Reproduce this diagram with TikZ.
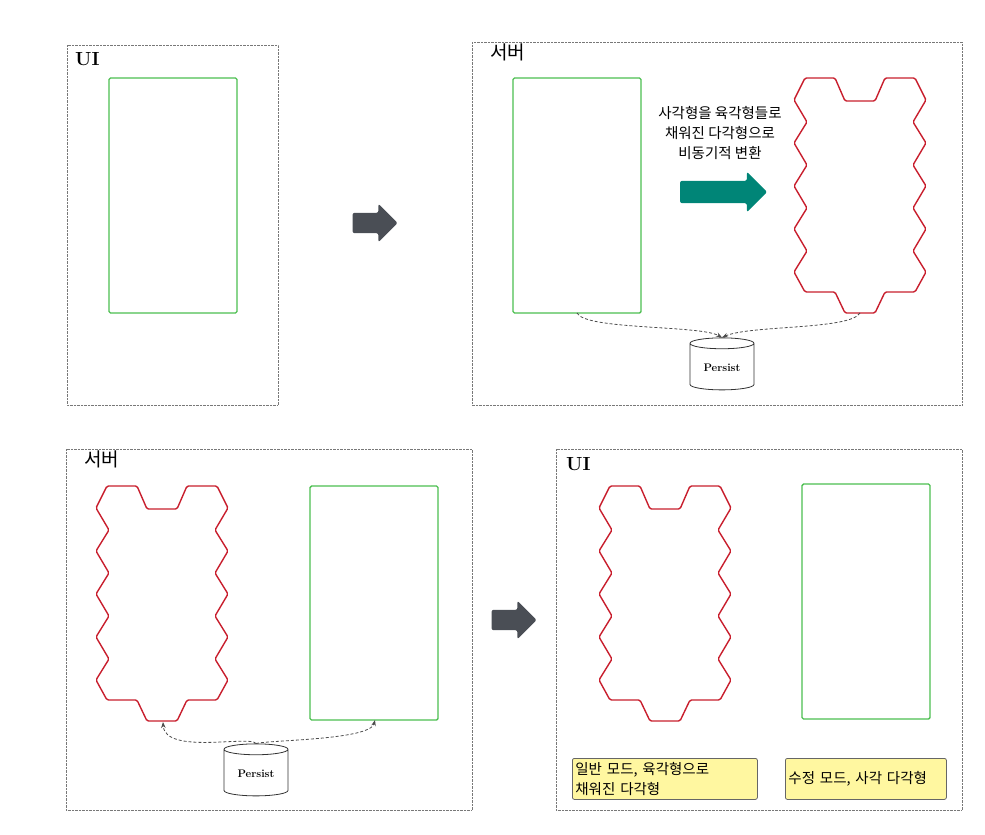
\documentclass[tikz,border=0pt]{standalone}
\usepackage{fontspec}
\newfontfamily\kr{Noto Sans CJK KR}
\usetikzlibrary{shapes.geometric,shapes.arrows,arrows.meta,positioning}
\definecolor{FrameGray}{RGB}{120,120,120}
\definecolor{RectGreen}{RGB}{76,190,80}
\definecolor{HexRed}{RGB}{200,30,45}
\definecolor{ArrowGray}{RGB}{74,78,85}
\definecolor{ArrowTeal}{RGB}{0,133,119}
\definecolor{NoteYellow}{RGB}{255,247,160}
\tikzset{
  frame/.style={draw=FrameGray, densely dotted, thin},
  rect/.style={draw=RectGreen, rounded corners=1.5pt, line width=1.4pt},
  hexpoly/.style={draw=HexRed, line width=1.4pt, rounded corners=1.5pt},
  title/.style={anchor=north west, font=\bfseries\fontsize{19}{22}\selectfont, inner sep=0pt},
  ktitle/.style={anchor=north west, font=\kr\fontsize{19}{22}\selectfont, inner sep=0pt},
  blockarrow/.style={single arrow, fill=#1, draw=none, rounded corners=2pt, single arrow head extend=9pt, inner sep=0pt},
  persist/.style={cylinder, shape border rotate=90, aspect=0.25, draw=black!80, fill=white, thick, minimum width=64pt, minimum height=52pt, font=\bfseries\fontsize{11}{13}\selectfont},
  dflow/.style={densely dashed, draw=black!70, thick, -{Stealth[length=6pt]}},
  note/.style={draw=black!60, fill=NoteYellow, rounded corners=2pt, thick, anchor=north west, minimum width=#1, minimum height=41pt, align=left, inner sep=2pt, font=\kr\fontsize{14.5}{20}\selectfont, text width=#1-6pt}
}
\newcommand{\hexblob}[2]{%
  \draw[hexpoly, shift={(#1,#2)}] (11,0) -- (41,0) -- (51,23) -- (81,23) -- (91,0) -- (121,0) -- (132,22) -- (119,44) -- (132,65) -- (119,87) -- (132,108) -- (119,130) -- (132,151) -- (119,173) -- (132,194) -- (121,214) -- (91,214) -- (81,235) -- (51,235) -- (41,214) -- (11,214) -- (0,194) -- (13,173) -- (0,151) -- (13,130) -- (0,108) -- (13,87) -- (0,65) -- (13,44) -- (0,22) -- cycle;}
\begin{document}
\begin{tikzpicture}[x=1pt, y=-1pt]
\useasboundingbox (0,0) rectangle (985,835);

% top left: UI
\draw[frame] (67,45) rectangle (278,405);
\node[title] (ui1) at (75,52) {UI};
\draw[rect] (109,78) rectangle (237,313);
\node[blockarrow=ArrowGray, minimum height=45pt] (step1) at (370,223) {\rule{0pt}{20pt}};

% top right: server
\draw[frame] (472,42) rectangle (962,405);
\node[ktitle] (srv1) at (490,44) {서버};
\draw[rect] (513,78) rectangle (641,313);
\coordinate (r1) at (577,313);
\node[font=\kr\fontsize{14.5}{20}\selectfont, align=center] (conv) at (720,133) {사각형을 육각형들로\\채워진 다각형으로\\비동기적 변환};
\node[blockarrow=ArrowTeal, minimum height=87pt] (convarrow) at (718,192) {\rule{0pt}{22pt}};
\hexblob{794}{78}
\coordinate (h1) at (860,313);
\node[persist] (db1) at (722,368) {Persist};
\draw[dflow] (r1) .. controls (585,330) and (700,325) .. (db1.north);
\draw[dflow] (h1) .. controls (850,330) and (750,325) .. (db1.north);

% bottom left: server
\draw[frame] (66,449) rectangle (472,810);
\node[ktitle] (srv2) at (84,451) {서버};
\hexblob{96}{486}
\coordinate (h2) at (163,722);
\draw[rect] (310,486) rectangle (438,720);
\coordinate (r2) at (375,720);
\node[persist] (db2) at (256,774) {Persist};
\draw[dflow] (db2.north) .. controls (250,735) and (165,755) .. (h2);
\draw[dflow] (db2.north) .. controls (270,740) and (370,740) .. (r2);
\node[blockarrow=ArrowGray, minimum height=45pt] (step2) at (509,620) {\rule{0pt}{20pt}};

% bottom right: UI
\draw[frame] (556,449) rectangle (962,810);
\node[title] (ui2) at (566,457) {UI};
\hexblob{599}{486}
\draw[rect] (802,484) rectangle (930,719);
\node[note=185pt] (n1) at (572,758) {일반 모드, 육각형으로\\채워진 다각형};
\node[note=161pt] (n2) at (785,758) {수정 모드, 사각 다각형};
\end{tikzpicture}
\end{document}
